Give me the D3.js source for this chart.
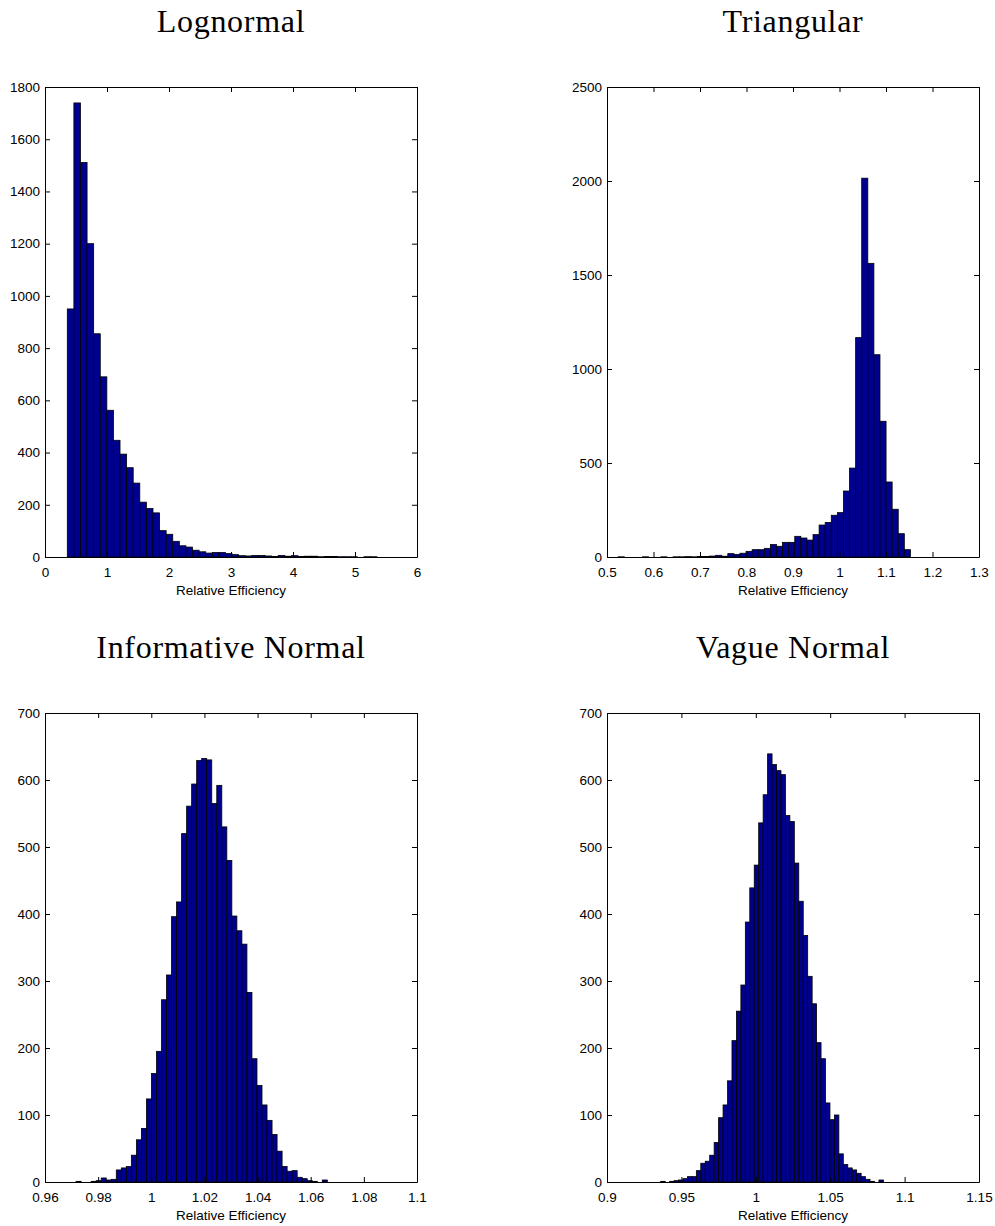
<!DOCTYPE html>
<meta charset="utf-8">
<script src="https://d3js.org/d3.v7.min.js"></script>
<style>
  body { margin: 0; background: #fff; }
  .tick text { font-family: 'Liberation Sans', Arial, sans-serif; font-size: 13.5px; fill: #000; }
  .ptitle { font-family: 'Liberation Serif', 'Times New Roman', serif; font-size: 32px; letter-spacing: 0.7px; }
  .xlabel { font-family: 'Liberation Sans', Arial, sans-serif; font-size: 13.5px; }
</style>
<body>
<div id="my_dataviz"></div>
<script>
// panel titles
var titles = ["Lognormal", "Triangular", "Informative Normal", "Vague Normal"];

// histogram counts (one value per bin)
var lognormalCounts = [950, 1739, 1511, 1200, 855, 690, 562, 447, 394, 342, 283, 210, 186, 169, 101, 87,
  60, 43, 38, 26, 20, 15, 17, 17, 13, 9, 5, 4, 6, 6, 4, 2, 6, 3, 5, 2, 3, 3, 1, 2, 2, 1, 1, 1, 0, 1, 1];
var triangularCounts = [0, 0, 1, 0, 0, 0, 1, 0, 0, 1, 0, 1, 1, 2, 1, 3, 3, 5, 9, 4, 18, 14, 20, 30, 39,
  39, 46, 66, 57, 78, 78, 110, 101, 90, 119, 170, 184, 222, 236, 351, 473, 1167, 2015, 1562, 1076, 722,
  399, 254, 124, 39];
var informativeCounts = [1, 0, 0, 1, 2, 6, 3, 4, 18, 21, 23, 40, 63, 80, 124, 162, 195, 272, 309, 396,
  418, 520, 561, 594, 629, 632, 630, 565, 592, 530, 480, 397, 375, 355, 283, 184, 144, 115, 92, 71, 46,
  23, 16, 17, 7, 5, 2, 1, 0, 3];
var vagueCounts = [1, 0, 1, 2, 3, 5, 8, 8, 17, 28, 31, 40, 59, 96, 115, 151, 211, 255, 294, 388, 439,
  473, 536, 578, 639, 623, 614, 608, 547, 538, 476, 419, 368, 307, 266, 208, 184, 118, 93, 100, 42, 26,
  21, 18, 13, 8, 4, 1, 0, 3];

// first bin edge and bin width of each histogram
var binStarts = [0.3597, 0.498, 0.9717, 0.9361];
var binWidths = [0.1063, 0.01309, 0.001891, 0.002993];

// axis ranges and ticks
var xDomains = [[0, 6], [0.5, 1.3], [0.96, 1.1], [0.9, 1.15]];
var yDomains = [[0, 1800], [0, 2500], [0, 700], [0, 700]];
var xTicks = [
  [0, 1, 2, 3, 4, 5, 6],
  [0.5, 0.6, 0.7, 0.8, 0.9, 1.0, 1.1, 1.2, 1.3],
  [0.96, 0.98, 1.0, 1.02, 1.04, 1.06, 1.08, 1.1],
  [0.9, 0.95, 1.0, 1.05, 1.1, 1.15]
];
var xTickLabels = [
  ["0", "1", "2", "3", "4", "5", "6"],
  ["0.5", "0.6", "0.7", "0.8", "0.9", "1", "1.1", "1.2", "1.3"],
  ["0.96", "0.98", "1", "1.02", "1.04", "1.06", "1.08", "1.1"],
  ["0.9", "0.95", "1", "1.05", "1.1", "1.15"]
];
var yTicks = [
  [0, 200, 400, 600, 800, 1000, 1200, 1400, 1600, 1800],
  [0, 500, 1000, 1500, 2000, 2500],
  [0, 100, 200, 300, 400, 500, 600, 700],
  [0, 100, 200, 300, 400, 500, 600, 700]
];
var xLabel = "Relative Efficiency";

var counts = [lognormalCounts, triangularCounts, informativeCounts, vagueCounts];

// where each axes box sits on the page
var boxes = [
  {left: 45, top: 87, width: 372, height: 470},
  {left: 607, top: 87, width: 372, height: 470},
  {left: 45, top: 713, width: 372, height: 469},
  {left: 607, top: 713, width: 372, height: 469}
];

var svg = d3.select("#my_dataviz")
  .append("svg")
    .attr("width", 995)
    .attr("height", 1226)
    .style("display", "block");

boxes.forEach(function(b, i) {
  var g = svg.append("g")
    .attr("transform", "translate(" + b.left + "," + b.top + ")");

  var x = d3.scaleLinear().domain(xDomains[i]).range([0, b.width]);
  var y = d3.scaleLinear().domain(yDomains[i]).range([b.height, 0]);

  var bins = counts[i].map(function(c, k) {
    return {x0: binStarts[i] + k * binWidths[i], x1: binStarts[i] + (k + 1) * binWidths[i], n: c};
  });

  // bars
  g.selectAll("rect.bar")
    .data(bins)
    .enter()
    .append("rect")
      .attr("class", "bar")
      .attr("x", function(d) { return x(d.x0); })
      .attr("width", function(d) { return x(d.x1) - x(d.x0); })
      .attr("y", function(d) { return y(d.n); })
      .attr("height", function(d) { return y(0) - y(d.n); })
      .style("fill", "#00008f")
      .style("stroke", "#000")
      .style("stroke-width", 0.8);

  // axes, ticks pointing inward like matlab
  var labels = xTickLabels[i];
  g.append("g")
    .attr("transform", "translate(0," + b.height + ")")
    .call(d3.axisBottom(x).tickValues(xTicks[i])
      .tickFormat(function(d, j) { return labels[j]; })
      .tickSizeInner(-5).tickSizeOuter(0).tickPadding(10));
  g.append("g")
    .call(d3.axisTop(x).tickValues(xTicks[i]).tickFormat("")
      .tickSizeInner(-5).tickSizeOuter(0));
  g.append("g")
    .call(d3.axisLeft(y).tickValues(yTicks[i]).tickFormat(d3.format("d"))
      .tickSizeInner(-5).tickSizeOuter(0).tickPadding(5));
  g.append("g")
    .attr("transform", "translate(" + b.width + ",0)")
    .call(d3.axisRight(y).tickValues(yTicks[i]).tickFormat("")
      .tickSizeInner(-5).tickSizeOuter(0));

  g.selectAll(".domain, .tick line").style("stroke", "#000").style("stroke-width", 1);
  g.selectAll(".tick text").attr("font-family", null).attr("font-size", null);

  // title
  svg.append("text")
    .attr("class", "ptitle")
    .attr("text-anchor", "middle")
    .attr("x", b.left + b.width / 2)
    .attr("y", b.top - 55)
    .text(titles[i]);

  // x label
  svg.append("text")
    .attr("class", "xlabel")
    .attr("text-anchor", "middle")
    .attr("x", b.left + b.width / 2)
    .attr("y", b.top + b.height + 38)
    .text(xLabel);
});
</script>
</body>
